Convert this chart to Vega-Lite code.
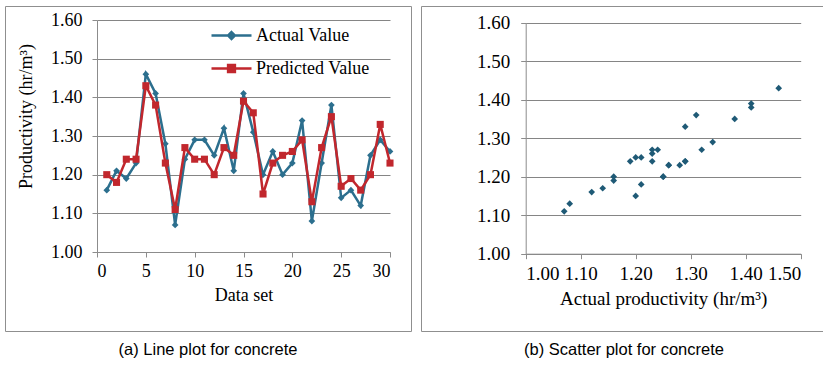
{
  "$schema": "https://vega.github.io/schema/vega-lite/v6.json",
  "padding": {"left": 4, "top": 5, "right": 0, "bottom": 0},
  "spacing": 8,
  "background": "white",
  "config": {
    "view": {"stroke": "#8f8f8f", "strokeWidth": 1},
    "font": "Liberation Serif",
    "axis": {
      "labelFont": "Liberation Serif",
      "titleFont": "Liberation Serif",
      "labelFontSize": 18,
      "titleFontSize": 18,
      "titleFontWeight": "normal",
      "labelColor": "#000000",
      "titleColor": "#000000",
      "domainColor": "#8c8c8c",
      "tickColor": "#8c8c8c",
      "gridColor": "#858585",
      "gridWidth": 1,
      "tickSize": 5
    },
    "title": {
      "font": "Liberation Sans",
      "fontSize": 16.5,
      "fontWeight": "normal",
      "color": "#000000",
      "orient": "bottom",
      "anchor": "middle",
      "baseline": "top",
      "offset": 11
    }
  },
  "datasets": {
    "prod": [
      {"Data set": 1, "Actual Value": 1.16, "Predicted Value": 1.20},
      {"Data set": 2, "Actual Value": 1.21, "Predicted Value": 1.18},
      {"Data set": 3, "Actual Value": 1.19, "Predicted Value": 1.24},
      {"Data set": 4, "Actual Value": 1.23, "Predicted Value": 1.24},
      {"Data set": 5, "Actual Value": 1.46, "Predicted Value": 1.43},
      {"Data set": 6, "Actual Value": 1.41, "Predicted Value": 1.38},
      {"Data set": 7, "Actual Value": 1.28, "Predicted Value": 1.23},
      {"Data set": 8, "Actual Value": 1.07, "Predicted Value": 1.11},
      {"Data set": 9, "Actual Value": 1.24, "Predicted Value": 1.27},
      {"Data set": 10, "Actual Value": 1.29, "Predicted Value": 1.24},
      {"Data set": 11, "Actual Value": 1.29, "Predicted Value": 1.24},
      {"Data set": 12, "Actual Value": 1.25, "Predicted Value": 1.20},
      {"Data set": 13, "Actual Value": 1.32, "Predicted Value": 1.27},
      {"Data set": 14, "Actual Value": 1.21, "Predicted Value": 1.25},
      {"Data set": 15, "Actual Value": 1.41, "Predicted Value": 1.39},
      {"Data set": 16, "Actual Value": 1.31, "Predicted Value": 1.36},
      {"Data set": 17, "Actual Value": 1.20, "Predicted Value": 1.15},
      {"Data set": 18, "Actual Value": 1.26, "Predicted Value": 1.23},
      {"Data set": 19, "Actual Value": 1.20, "Predicted Value": 1.25},
      {"Data set": 20, "Actual Value": 1.23, "Predicted Value": 1.26},
      {"Data set": 21, "Actual Value": 1.34, "Predicted Value": 1.29},
      {"Data set": 22, "Actual Value": 1.08, "Predicted Value": 1.13},
      {"Data set": 23, "Actual Value": 1.23, "Predicted Value": 1.27},
      {"Data set": 24, "Actual Value": 1.38, "Predicted Value": 1.35},
      {"Data set": 25, "Actual Value": 1.14, "Predicted Value": 1.17},
      {"Data set": 26, "Actual Value": 1.16, "Predicted Value": 1.19},
      {"Data set": 27, "Actual Value": 1.12, "Predicted Value": 1.16},
      {"Data set": 28, "Actual Value": 1.25, "Predicted Value": 1.20},
      {"Data set": 29, "Actual Value": 1.29, "Predicted Value": 1.33},
      {"Data set": 30, "Actual Value": 1.26, "Predicted Value": 1.23}
    ]
  },
  "hconcat": [
    {
      "width": 406,
      "height": 325,
      "title": {"text": "(a) Line plot for concrete"},
      "data": {"name": "prod"},
      "transform": [{"fold": ["Actual Value", "Predicted Value"], "as": ["Series", "Productivity"]}],
      "encoding": {
        "x": {
          "field": "Data set",
          "type": "quantitative",
          "scale": {"domain": [0, 30], "range": [92, 385], "nice": false, "zero": false},
          "axis": {
            "orient": "bottom",
            "offset": -79,
            "values": [0, 5, 10, 15, 20, 25, 30],
            "grid": false,
            "title": "Data set",
            "labelPadding": 5,
            "titlePadding": 6
          }
        },
        "y": {
          "field": "Productivity",
          "type": "quantitative",
          "scale": {"domain": [1, 1.6], "range": [246, 14], "nice": false, "zero": false},
          "axis": {
            "orient": "left",
            "offset": -92,
            "values": [1, 1.1, 1.2, 1.3, 1.4, 1.5, 1.6],
            "format": ".2f",
            "grid": true,
            "labelPadding": 10,
            "title": "Productivity (hr/m³)",
            "titleX": -71,
            "titleY": 110,
            "titleAngle": -90,
            "titleAlign": "center",
            "titleBaseline": "middle"
          }
        },
        "color": {
          "field": "Series",
          "type": "nominal",
          "scale": {"domain": ["Actual Value", "Predicted Value"], "range": ["#2c6f8e", "#c1272d"]},
          "legend": {
            "orient": "none",
            "legendX": 205,
            "legendY": 8,
            "title": null,
            "labelFont": "Liberation Serif",
            "labelFontSize": 18,
            "labelColor": "#000000",
            "labelOffset": 3,
            "symbolSize": 1600,
            "symbolStrokeWidth": 2.5,
            "rowPadding": 2,
            "encode": {
              "symbols": {
                "update": {
                  "shape": {"signal": "datum.value === 'Actual Value' ? 'M-1,0H1M0,-0.17L0.17,0L0,0.17L-0.17,0Z' : 'M-1,0H1M-0.17,-0.17H0.17V0.17H-0.17Z'"},
                  "fill": {"signal": "datum.value === 'Actual Value' ? '#2c6f8e' : '#c1272d'"},
                  "stroke": {"signal": "datum.value === 'Actual Value' ? '#2c6f8e' : '#c1272d'"},
                  "strokeWidth": {"value": 2.5},
                  "opacity": {"value": 1}
                }
              }
            }
          }
        }
      },
      "layer": [
        {
          "transform": [{"filter": "datum.Series === 'Actual Value'"}],
          "mark": {"type": "line", "strokeWidth": 2.5, "point": {"shape": "diamond", "size": 45, "filled": true, "opacity": 1, "color": "#245f7c"}}
        },
        {
          "transform": [{"filter": "datum.Series === 'Predicted Value'"}],
          "mark": {"type": "line", "strokeWidth": 2.5, "point": {"shape": "square", "size": 50, "filled": true, "opacity": 1}}
        }
      ]
    },
    {
      "width": 406,
      "height": 325,
      "title": {"text": "(b) Scatter plot for concrete"},
      "data": {"name": "prod"},
      "mark": {"type": "point", "shape": "diamond", "filled": true, "size": 45, "opacity": 1, "color": "#1f5a76"},
      "encoding": {
        "x": {
          "field": "Actual Value",
          "type": "quantitative",
          "scale": {"domain": [1, 1.5], "range": [104.7, 379.7], "nice": false, "zero": false},
          "axis": {
            "orient": "bottom",
            "offset": -77.3,
            "values": [1, 1.1, 1.2, 1.3, 1.4, 1.5],
            "format": ".2f",
            "grid": false,
            "title": "Actual productivity (hr/m³)",
            "labelFontSize": 19,
            "titleFontSize": 19,
            "labelPadding": 6,
            "titlePadding": 6
          }
        },
        "y": {
          "field": "Predicted Value",
          "type": "quantitative",
          "scale": {"domain": [1, 1.6], "range": [247.7, 16.7], "nice": false, "zero": false},
          "axis": {
            "orient": "left",
            "offset": -104.7,
            "values": [1, 1.1, 1.2, 1.3, 1.4, 1.5, 1.6],
            "format": ".2f",
            "grid": true,
            "labelFontSize": 19,
            "labelPadding": 11,
            "title": null
          }
        }
      }
    }
  ]
}
